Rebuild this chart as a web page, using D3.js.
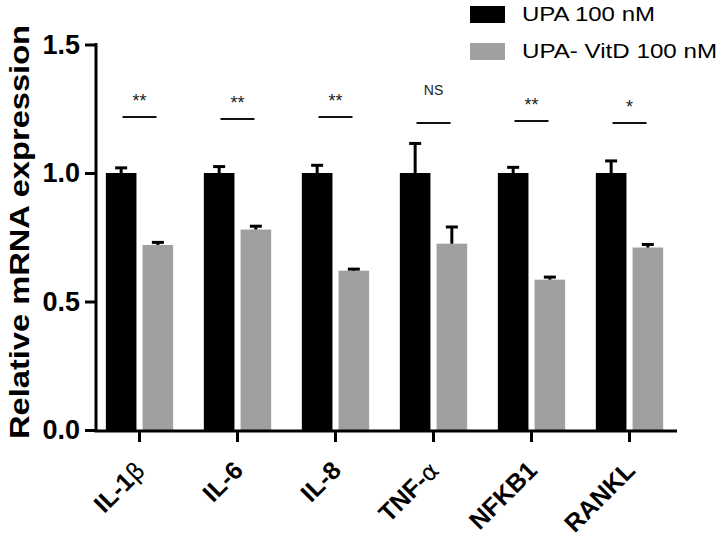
<!DOCTYPE html>
<html><head><meta charset="utf-8">
<script src="https://cdn.jsdelivr.net/npm/d3@7"></script>
<style>body{margin:0;background:#fff}svg{display:block}</style>
</head><body><svg id="c" width="720" height="539"></svg>
<script>
const categories = ["IL-1β","IL-6","IL-8","TNF-α","NFKB1","RANKL"];
const seriesNames = ["UPA 100 nM","UPA- VitD 100 nM"];
const upaMean = [1.0,1.0,1.0,1.0,1.0,1.0];
const upaErr = [0.02,0.025,0.03,0.115,0.022,0.047];
const vitdMean = [0.72,0.78,0.62,0.725,0.585,0.71];
const vitdErr = [0.01,0.013,0.006,0.065,0.01,0.012];
const sigLabels = ["**","**","**","NS","**","*"];
const sigHeights = [1.218,1.21,1.218,1.195,1.202,1.195];
const yTicks = [0.0,0.5,1.0,1.5];
const yLabel = "Relative mRNA expression";

const colors = ["#000000","#a0a0a0"];
const svg = d3.select("#c");
const font = "'Liberation Sans', Arial, sans-serif";

const y = d3.scaleLinear().domain([0,1.5]).range([430,44.5]);
const x = d3.scaleBand().domain(categories).range([90.5,678.5]);
const xs = d3.scaleBand().domain([0,1]).range([15.35,82.65]).paddingInner(0.166);

const series = [
  {name:seriesNames[0], mean:upaMean, err:upaErr},
  {name:seriesNames[1], mean:vitdMean, err:vitdErr}
];

// bars
series.forEach((s,si)=>{
  const g = svg.append("g");
  g.selectAll("rect").data(categories).join("rect")
    .attr("x",(c)=>x(c)+xs(si))
    .attr("width",xs.bandwidth())
    .attr("y",(c,i)=>y(s.mean[i]))
    .attr("height",(c,i)=>y(0)-y(s.mean[i]))
    .attr("fill",colors[si]);
  g.selectAll("line.eb").data(categories).join("line").attr("class","eb")
    .attr("x1",(c)=>x(c)+xs(si)+xs.bandwidth()/2)
    .attr("x2",(c)=>x(c)+xs(si)+xs.bandwidth()/2)
    .attr("y1",(c,i)=>y(s.mean[i]))
    .attr("y2",(c,i)=>y(s.mean[i]+s.err[i]))
    .attr("stroke","#000").attr("stroke-width",3);
  g.selectAll("line.cap").data(categories).join("line").attr("class","cap")
    .attr("x1",(c)=>x(c)+xs(si)+xs.bandwidth()/2-6)
    .attr("x2",(c)=>x(c)+xs(si)+xs.bandwidth()/2+6)
    .attr("y1",(c,i)=>y(s.mean[i]+s.err[i]))
    .attr("y2",(c,i)=>y(s.mean[i]+s.err[i]))
    .attr("stroke","#000").attr("stroke-width",3);
});

// y axis
const ya = svg.append("g").attr("transform","translate(96,0)")
  .call(d3.axisLeft(y).tickValues(yTicks).tickFormat(d3.format(".1f")).tickSize(11).tickPadding(5));
ya.select(".domain").remove();
ya.selectAll(".tick line").attr("stroke","#000").attr("stroke-width",3);
ya.selectAll(".tick text").attr("font-family",font).attr("font-size",27).attr("font-weight","bold").attr("fill","#000");
svg.append("line").attr("x1",96).attr("x2",96).attr("y1",y(1.5)-1.5).attr("y2",y(0)+1.5)
  .attr("stroke","#000").attr("stroke-width",3);

// x axis
const xa = svg.append("g").attr("transform",`translate(0,${y(0)+1})`)
  .call(d3.axisBottom(x).tickSize(11).tickFormat(""));
xa.select(".domain").remove();
xa.selectAll(".tick line").attr("stroke","#000").attr("stroke-width",3);
svg.append("line").attr("x1",94.5).attr("x2",677).attr("y1",y(0)+1).attr("y2",y(0)+1)
  .attr("stroke","#000").attr("stroke-width",3);

// x labels
const xl = svg.append("g");
categories.forEach((c)=>{
  const cx = x(c)+x.bandwidth()/2;
  const t = xl.append("text")
    .attr("transform",`translate(${cx+7},472) rotate(-45)`)
    .attr("text-anchor","end")
    .attr("font-family",font).attr("font-size",25).attr("font-weight","bold").attr("fill","#000");
  const m = c.match(/^(.*?)([αβ])$/);
  if(m){
    t.append("tspan").text(m[1]);
    t.append("tspan").text(m[2]).attr("font-weight","normal").attr("font-family","'DejaVu Sans', sans-serif").attr("font-size",24);
  } else t.text(c);
});

// y label
svg.append("text")
  .attr("transform","translate(29,232) rotate(-90)")
  .attr("text-anchor","middle")
  .attr("font-family",font).attr("font-size",27).attr("font-weight","bold").attr("fill","#000")
  .attr("textLength",414).attr("lengthAdjust","spacingAndGlyphs")
  .text(yLabel);

// significance
const sg = svg.append("g");
categories.forEach((c,i)=>{
  const cx = x(c)+x.bandwidth()/2;
  const ly = y(sigHeights[i]);
  sg.append("line").attr("x1",cx-17).attr("x2",cx+17).attr("y1",ly).attr("y2",ly)
    .attr("stroke","#111").attr("stroke-width",2);
  const isNS = sigLabels[i]==="NS";
  sg.append("text").attr("x",cx).attr("y",isNS? ly-28 : ly-10)
    .attr("text-anchor","middle").attr("font-family",font)
    .attr("font-size",isNS?14:18).attr("fill","#222")
    .text(sigLabels[i]);
});

// legend
const lg = svg.append("g");
series.forEach((s,si)=>{
  const ly = si===0 ? 6 : 43;
  lg.append("rect").attr("x",470).attr("y",ly).attr("width",35).attr("height",17).attr("fill",colors[si]);
  lg.append("text").attr("x",522).attr("y",ly+15)
    .attr("font-family",font).attr("font-size",20).attr("fill","#000")
    .attr("textLength",si===0?133:195).attr("lengthAdjust","spacingAndGlyphs")
    .text(s.name);
});
</script></body></html>
